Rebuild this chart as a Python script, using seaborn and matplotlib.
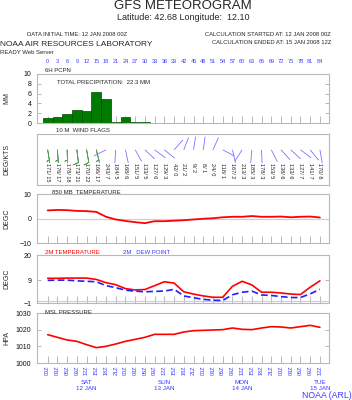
import numpy as np
import pandas as pd
import seaborn as sns
import matplotlib.pyplot as plt

sns.set_theme(style="white")
plt.rcParams['font.family'] = ['Liberation Sans', 'DejaVu Sans']

# forecast hours (3-hourly, 12 JAN 2008 00Z .. 15 JAN 2008 12Z)
hours = [0, 3, 6, 9, 12, 15, 18, 21, 24, 27, 30, 33, 36, 39, 42, 45, 48, 51,
         54, 57, 60, 63, 66, 69, 72, 75, 78, 81, 84]
time_labels = ['00Z', '03Z', '06Z', '09Z', '12Z', '15Z', '18Z', '21Z',
               '00Z', '03Z', '06Z', '09Z', '12Z', '15Z', '18Z', '21Z',
               '00Z', '03Z', '06Z', '09Z', '12Z', '15Z', '18Z', '21Z',
               '00Z', '03Z', '06Z', '09Z', '12Z']
day_hours = [12, 36, 60, 84]
day_labels = ['SAT\n12 JAN', 'SUN\n13 JAN', 'MON\n14 JAN', 'TUE\n15 JAN']

precip = [1.0, 1.2, 1.9, 2.7, 2.4, 6.3, 4.8, 0.2, 1.2, 0.3, 0.3, 0, 0, 0, 0,
          0, 0, 0, 0, 0, 0, 0, 0, 0, 0, 0, 0, 0, 0]
wind_dir = [171, 176, 178, 173, 170, 166, 243, 184, 168, 151, 133, 127, 129,
            42, 21, 9, 8, 24, 118, 167, 213, 185, 178, 153, 138, 133, 127,
            141, 170]
wind_spd = [15, 17, 18, 21, 22, 17, 7, 5, 6, 5, 5, 6, 3, 0, 2, 2, 1, 0, 1, 2,
            3, 3, 3, 5, 6, 6, 7, 7, 8]
t850 = [3.3, 3.5, 3.4, 3.1, 3.0, 2.7, 0.7, -0.4, -1.0, -1.5, -1.9, -1.1,
        -1.1, -0.9, -0.7, -0.4, -0.1, 0.1, 0.5, 0.7, 0.7, 1.0, 0.7, 0.7, 0.8,
        0.5, 0.7, 0.8, 0.4]
t2m = [9.8, 9.8, 9.9, 9.9, 9.9, 9.3, 7.9, 7.0, 5.3, 4.7, 4.9, 6.6, 8.3, 7.7,
       3.9, 2.9, 2.1, 1.5, 1.5, 6.3, 8.5, 6.9, 3.7, 3.7, 3.4, 2.9, 2.7, 5.9,
       8.7]
td2m = [8.9, 9.0, 9.0, 8.7, 8.5, 8.3, 6.6, 5.7, 4.6, 4.2, 3.9, 4.1, 4.2, 5.0,
        2.1, 1.3, 0.6, 0.2, 0.1, 2.6, 3.7, 4.2, 2.5, 2.3, 1.8, 1.4, 1.4, 3.0,
        5.0]
mslp = [1017.0, 1015.4, 1013.8, 1013.0, 1011.0, 1009.2, 1010.0, 1011.4,
        1013.0, 1014.2, 1015.4, 1017.2, 1017.2, 1017.2, 1018.6, 1019.4,
        1019.6, 1019.8, 1020.0, 1021.0, 1020.2, 1020.0, 1021.0, 1021.8,
        1021.6, 1021.0, 1021.8, 1022.6, 1021.4]

df = pd.DataFrame({'hour': hours, 'precip': precip, 'dir': wind_dir,
                   'spd': wind_spd, 't850': t850, 't2m': t2m, 'td2m': td2m,
                   'mslp': mslp})

BLUE = '#3a3aff'
GRID = '#b8b8b8'
W, H = 352, 400


def box(top, bottom, left=37, right=329):
    return [left / W, 1 - bottom / H, (right - left) / W, (bottom - top) / H]


def ftext(x, y, s, **kw):
    fig.text(x / W, 1 - y / H, s, **kw)


def style(ax, yticks=None):
    ax.set_xlim(-3.3, 86.8)
    ax.set_xticks(hours)
    ax.set_xticklabels([])
    for sp in ax.spines.values():
        sp.set_color(GRID)
        sp.set_linewidth(0.8)
    ax.tick_params(axis='x', direction='in', length=5, color=GRID, width=0.7,
                   bottom=True)
    ax.tick_params(axis='y', direction='in', length=3, color=GRID, width=0.7,
                   left=True, right=True, labelsize=5, pad=4,
                   labelcolor='#111111')
    if yticks is not None:
        ax.set_yticks(yticks)
    ax.set_xlabel('')
    ax.set_ylabel('')


fig = plt.figure(figsize=(W / 100, H / 100), dpi=100)

# header
ftext(183, 6, 'GFS METEOROGRAM', ha='center', va='center', fontsize=9.5)
ftext(183, 17, 'Latitude: 42.68 Longitude:  12.10', ha='center',
      va='center', fontsize=6.5)
ftext(27, 35, 'DATA INITIAL TIME: 12 JAN 2008 00Z', va='center', fontsize=4.2)
ftext(331, 35, 'CALCULATION STARTED AT: 12 JAN 2008 00Z', ha='right',
      va='center', fontsize=4.2)
ftext(331, 43, 'CALCULATION ENDED AT: 15 JAN 2008 12Z', ha='right',
      va='center', fontsize=4.2)
ftext(0, 45, 'NOAA AIR RESOURCES LABORATORY', va='center', fontsize=6.0)
ftext(0, 53, 'READY Web Server', va='center', fontsize=4.3)

# precipitation
ax1 = fig.add_axes(box(74, 123))
sns.barplot(data=df, x='hour', y='precip', native_scale=True, width=1.0,
            color='#007a00', saturation=1, edgecolor='#004a00', linewidth=0.5,
            ax=ax1)
style(ax1, [0, 2, 4, 6, 8, 10])
ax1.set_ylim(0, 10)
ax1.set_xticklabels([str(h) for h in hours])
ax1.tick_params(axis='x', top=False, labeltop=True, labelbottom=False,
                length=5, labelsize=4, labelcolor=BLUE, pad=7.5)
ax1.set_ylabel('MM', fontsize=5)
ax1.yaxis.set_label_coords(-0.092, 0.5)
ftext(45, 71, '6H PCPN', va='center', fontsize=4.3)
ftext(57, 83, 'TOTAL PRECIPITATION:  22.3 MM', va='center', fontsize=4.3)

# wind flags
ax2 = fig.add_axes(box(134, 185))
style(ax2)
ax2.set_ylim(0, 1)
ax2.set_yticks([])
ax2.tick_params(axis='x', length=0)
ax2.set_ylabel('DEG/KTS', fontsize=5)
ax2.yaxis.set_label_coords(-0.092, 0.5)
rad = np.deg2rad(df['dir'])
strong = (df['spd'] >= 10).to_numpy()
weak = ~strong
y0 = 0.69
ax2.barbs(df['hour'].to_numpy()[strong], np.full(strong.sum(), y0),
          (-df['spd'] * np.sin(rad)).to_numpy()[strong],
          (-df['spd'] * np.cos(rad)).to_numpy()[strong],
          length=4.3, color='#5aa05a', linewidth=0.6, rounding=False,
          barb_increments=dict(half=10, full=20, flag=100))
ax2.quiver(df['hour'].to_numpy()[weak], np.full(weak.sum(), y0),
           np.sin(rad).to_numpy()[weak], np.cos(rad).to_numpy()[weak],
           pivot='tail', angles='uv', scale_units='inches', scale=7.5,
           units='dots', width=0.8, headwidth=0, headlength=0,
           headaxislength=0, color='#7070ff')
for h, d, s in zip(hours, wind_dir, wind_spd):
    ax2.text(h, 0.43, f'{d}/ {s}', rotation=270, ha='center', va='top',
             fontsize=4, color='#222222')
ftext(56, 131, '10 M  WIND FLAGS', va='center', fontsize=4.3)

# 850 mb temperature
ax3 = fig.add_axes(box(194, 243))
ax3.axhline(0, color='#c8c8ff', lw=0.8)
sns.lineplot(data=df, x='hour', y='t850', color='red', lw=1.3, ax=ax3)
style(ax3, [-10, 0, 10])
ax3.set_ylim(-10, 10)
ax3.set_ylabel('DEGC', fontsize=5)
ax3.yaxis.set_label_coords(-0.092, 0.5)
ftext(52, 192, '850 MB  TEMPERATURE', va='center', fontsize=4.3)

# 2m temperature / dew point
ax4 = fig.add_axes(box(255, 303))
ax4.axhline(0, color='#c8c8ff', lw=0.8)
sns.lineplot(data=df, x='hour', y='t2m', color='red', lw=1.2, ax=ax4)
sns.lineplot(data=df, x='hour', y='td2m', color='#2020ff', lw=1.2, ax=ax4,
             dashes=False, linestyle=(0, (4, 2)))
style(ax4, [-1, 9, 20])
ax4.set_ylim(-1, 20)
ax4.set_ylabel('DEGC', fontsize=5)
ax4.yaxis.set_label_coords(-0.092, 0.5)
ftext(45, 252, '2M TEMPERATURE', va='center', fontsize=4.3, color='red')
ftext(123, 252, '2M   DEW POINT', va='center', fontsize=4.3, color=BLUE)

# MSL pressure
ax5 = fig.add_axes(box(313, 363))
sns.lineplot(data=df, x='hour', y='mslp', color='red', lw=1.2, ax=ax5)
style(ax5, [1000, 1010, 1020, 1030])
ax5.set_ylim(1000, 1030)
ax5.set_ylabel('HPA', fontsize=5)
ax5.yaxis.set_label_coords(-0.092, 0.5)
ax5.set_xticklabels(time_labels, rotation=90, fontsize=4, color=BLUE)
ax5.tick_params(axis='x', pad=2)
for h, lab in zip(day_hours, day_labels):
    ax5.text(h, -0.33, lab, transform=ax5.get_xaxis_transform(),
             ha='center', va='top', fontsize=4.5, color=BLUE,
             linespacing=1.3)
ftext(45, 312, 'MSL PRESSURE', va='center', fontsize=4.3)
ftext(352, 395, 'NOAA (ARL)', ha='right', va='center', fontsize=6.3,
      color=BLUE)

fig.savefig('out.png', dpi=100)
